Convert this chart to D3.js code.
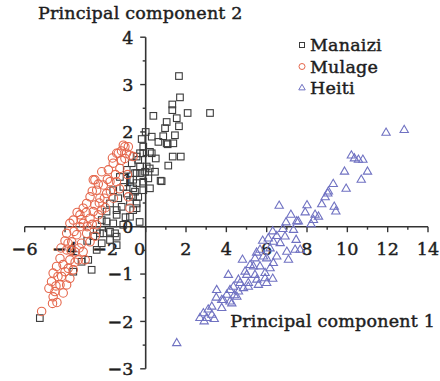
<!DOCTYPE html>
<html>
<head>
<meta charset="utf-8">
<script src="https://cdn.jsdelivr.net/npm/d3@7"></script>
<style>
  body { margin: 0; background: #fff; }
  text { font-family: "DejaVu Serif", serif; fill: #1e1e1e; stroke: #1e1e1e; stroke-width: 0.45px; letter-spacing: 0.2px; }
</style>
</head>
<body>
<svg id="chart" width="440" height="381"></svg>
<script>
const xTicks = [-6, -4, -2, 0, 2, 4, 6, 8, 10, 12, 14];
const yTicks = [-3, -2, -1, 0, 1, 2, 3, 4];
const seriesNames = ["Manaizi", "Mulage", "Heiti"];

// Manaizi (squares)
const manaizi = [
  [1.65,3.18],[1.70,2.73],[2.08,2.40],[3.19,2.40],[0.38,2.34],[1.32,2.58],[1.32,2.46],[1.54,2.29],
  [1.65,2.12],[1.04,2.21],[0.96,2.08],[0.87,1.91],[1.45,1.93],[1.37,1.76],[1.09,1.74],[0.63,1.79],
  [0.30,1.90],[-0.12,1.69],[-0.12,1.55],[0.30,1.55],[0.50,1.44],[1.34,1.48],[1.74,1.48],[1.12,1.29],
  [0.79,0.96],[0.46,1.16],[0.05,1.27],[-0.28,1.13],[-0.62,0.99],[1.04,1.76],[0.21,1.58],[-0.03,1.16],
  [0.13,1.02],[0.74,0.97],[-0.12,0.95],[0.21,0.81],[-0.12,0.77],[-0.45,0.92],[-0.53,0.74],[-0.37,0.63],
  [-0.45,0.49],[-0.62,0.35],[-0.28,1.55],[-0.37,1.41],[-0.45,1.13],[-0.45,1.48],[-0.69,1.34],[-0.28,1.27],
  [0.20,1.23],[-0.94,1.20],[-0.53,1.13],[-1.28,1.05],[-0.78,0.99],[-1.11,0.84],[-0.62,0.81],[-1.61,0.77],
  [-0.94,0.70],[-1.36,0.60],[-0.78,0.53],[-1.77,0.49],[-1.19,0.42],[-0.45,0.39],[-1.94,0.32],[-1.44,0.25],
  [-0.78,0.21],[-2.18,0.14],[-1.61,0.07],[-1.11,0.04],[-0.30,0.10],[-2.43,-0.07],[-2.10,-0.14],[-1.52,-0.14],
  [-1.77,-0.28],[-2.18,-0.35],[-1.44,-0.39],[-2.43,-0.49],[-2.85,-0.70],[-2.68,-0.91],[-3.18,-0.74],[-3.59,-0.95],
  [-1.44,-0.21],[-1.77,-0.11],[-5.25,-1.93],[-0.20,1.85],[0.00,2.00],[-1.00,0.20],[-2.90,-0.30],[-2.60,-0.20],
  [-2.27,-0.14],[-1.94,0.11],[-1.44,0.35],[-0.62,0.63]
];

// Mulage (circles)
const mulage = [
  [-0.86,1.69],[-1.11,1.72],[-1.36,1.55],[-0.78,1.51],[-1.03,1.44],[-1.61,1.34],[-1.28,1.23],[-2.18,1.16],
  [-2.60,0.99],[-2.10,0.88],[-1.77,0.95],[-2.43,0.77],[-1.94,0.70],[-2.76,0.63],[-2.27,0.60],[-2.93,0.49],
  [-2.52,0.46],[-3.10,0.39],[-2.60,0.32],[-2.18,0.35],[-3.26,0.25],[-2.76,0.18],[-3.59,0.14],[-3.10,0.07],
  [-3.76,0.07],[-0.86,0.63],[-0.78,0.39],[-1.03,1.69],[-1.44,1.55],[-0.62,1.48],[-2.52,0.99],[-1.50,1.10],
  [-1.90,1.00],[-3.26,0.00],[-2.43,0.04],[-3.92,-0.14],[-3.42,-0.17],[-2.93,-0.14],[-3.67,-0.32],[-3.18,-0.35],
  [-2.76,-0.32],[-3.92,-0.49],[-3.51,-0.53],[-3.10,-0.53],[-4.25,-0.67],[-3.76,-0.70],[-3.34,-0.70],[-4.42,-0.84],
  [-3.84,-0.88],[-3.59,-0.91],[-4.59,-0.98],[-4.17,-1.05],[-3.76,-1.09],[-4.67,-1.16],[-4.25,-1.23],[-3.92,-1.23],
  [-4.50,-1.37],[-4.09,-1.40],[-4.59,-1.48],[-4.62,-1.62],[-5.16,-1.79],[-2.90,0.00],[-2.30,0.50],[-1.60,0.60],
  [-1.30,0.80],[-2.00,0.40],[-3.40,0.30],[-2.50,-0.20],[-4.00,-0.30],[-4.00,-0.95],[-1.20,1.40],[-0.90,1.10],
  [-2.35,0.25],[-3.00,-0.70],[-4.35,-1.05],[-3.70,-0.50],[-3.30,-0.45],[-3.55,-0.10],[-2.65,0.05],[-2.05,0.60],
  [-1.75,0.75],[-1.45,0.95],[-1.85,1.20],[-2.35,0.90],[-1.20,1.60],[-0.95,1.55],[-2.95,0.30],[-3.50,-0.75],
  [-4.10,-0.80],[-4.45,-1.25],[-3.85,-0.35],[-4.20,-0.45],[-1.65,1.45],[-2.65,0.75],[-3.20,0.15],[-4.40,-1.60],
  [-4.80,-1.30]
];

// Heiti (triangles)
const heiti = [
  [11.92,1.98],[12.82,2.04],[10.35,1.44],[10.55,1.41],[10.77,1.41],[9.86,1.16],[11.00,1.16],[10.69,0.99],
  [9.06,0.74],[9.94,0.80],[8.73,0.47],[9.35,0.42],[9.43,0.32],[7.91,0.30],[8.40,0.25],[8.57,0.21],
  [6.62,0.44],[9.03,0.70],[8.32,0.14],[7.57,0.11],[6.96,0.09],[7.33,-0.07],[6.91,-0.21],[7.46,-0.28],
  [6.33,-0.32],[7.66,-0.49],[7.00,-0.53],[7.08,-0.70],[6.17,-0.46],[5.84,-0.63],[6.33,-0.77],[5.34,-0.84],
  [5.92,-0.98],[5.01,-1.02],[5.51,-1.12],[6.00,-1.19],[4.68,-1.19],[5.09,-1.27],[4.18,-1.34],[4.60,-1.37],
  [3.85,-1.55],[4.18,-1.58],[3.77,-1.72],[7.49,0.11],[6.08,-0.25],[6.67,-0.35],[7.41,-0.49],[5.67,-0.49],
  [5.42,-0.67],[6.00,-0.67],[6.50,-0.63],[5.18,-0.81],[5.67,-0.84],[6.17,-0.88],[4.93,-0.95],[5.42,-1.02],
  [5.92,-1.09],[4.10,-1.02],[4.60,-1.12],[5.09,-1.19],[5.59,-1.23],[4.35,-1.27],[4.85,-1.30],[3.52,-1.34],
  [4.02,-1.44],[4.52,-1.48],[3.77,-1.55],[4.27,-1.62],[3.28,-1.69],[3.03,-1.93],[2.86,-1.83],[3.28,-1.86],
  [2.69,-1.93],[1.54,-2.46],[6.30,-0.10],[6.80,-0.05],[5.80,-0.30],[6.50,-0.20],[5.50,-0.55],[4.80,-0.70],
  [3.50,-1.50],[3.10,-1.75],[2.90,-2.00],[3.40,-1.95],[4.40,-1.45],[6.30,-1.10],[8.00,0.45],[8.90,0.62],
  [10.20,1.50],[9.30,0.90],[8.20,0.05],[7.20,0.25]
];

const svg = d3.select("#chart");

const x = d3.scaleLinear().domain([-6, 14]).range([24.7, 428]);
const y = d3.scaleLinear().domain([-3, 4]).range([368.8, 37.2]);

const axisColor = "#333";
const fmt = d => d < 0 ? "\u2212" + Math.abs(d) : d;
const fs = "17.5px";

// x axis (through y = 0)
const xAxis = svg.append("g").attr("transform", "translate(0," + y(0) + ")");
xAxis.append("line")
  .attr("x1", x(-6)).attr("x2", x(14))
  .attr("stroke", axisColor).attr("stroke-width", 1.6);
xAxis.selectAll(".minor")
  .data(d3.range(-5, 14, 2))
  .enter().append("line")
  .attr("x1", d => x(d)).attr("x2", d => x(d))
  .attr("y1", 0).attr("y2", 3)
  .attr("stroke", axisColor).attr("stroke-width", 1.4);
xAxis.selectAll(".major")
  .data(xTicks)
  .enter().append("line")
  .attr("x1", d => x(d)).attr("x2", d => x(d))
  .attr("y1", 0).attr("y2", 5.5)
  .attr("stroke", axisColor).attr("stroke-width", 1.4);
xAxis.selectAll(".lab")
  .data(xTicks)
  .enter().append("text")
  .attr("x", d => x(d) + (d === 0 ? -6 : 0))
  .attr("y", 28)
  .attr("text-anchor", "middle")
  .style("font-size", fs)
  .text(fmt);

// y axis (through x = 0)
const yAxis = svg.append("g").attr("transform", "translate(" + x(0) + ",0)");
yAxis.append("line")
  .attr("y1", y(-3)).attr("y2", y(4))
  .attr("stroke", axisColor).attr("stroke-width", 1.6);
yAxis.selectAll(".minor")
  .data(d3.range(-2.5, 4, 1))
  .enter().append("line")
  .attr("y1", d => y(d)).attr("y2", d => y(d))
  .attr("x1", 0).attr("x2", -3)
  .attr("stroke", axisColor).attr("stroke-width", 1.4);
yAxis.selectAll(".major")
  .data(yTicks)
  .enter().append("line")
  .attr("y1", d => y(d)).attr("y2", d => y(d))
  .attr("x1", 0).attr("x2", -5.5)
  .attr("stroke", axisColor).attr("stroke-width", 1.4);
yAxis.selectAll(".lab")
  .data(yTicks)
  .enter().append("text")
  .attr("x", -12)
  .attr("y", d => y(d))
  .attr("dy", "0.36em")
  .attr("text-anchor", "end")
  .style("font-size", fs)
  .text(fmt);

// axis titles
svg.append("text").attr("x", 38).attr("y", 19)
  .style("font-size", fs).text("Principal component 2");
svg.append("text").attr("x", 435).attr("y", 327).attr("text-anchor", "end")
  .style("font-size", fs).text("Principal component 1");

const colors = ["#3c3c3c", "#e5674c", "#7072c2"];
const triangle = d3.symbol().type(d3.symbolTriangle);

// points
svg.append("g").selectAll("rect")
  .data(manaizi).enter().append("rect")
  .attr("x", d => x(d[0]) - 3.3).attr("y", d => y(d[1]) - 3.3)
  .attr("width", 6.6).attr("height", 6.6)
  .attr("fill", "none").attr("stroke", colors[0]).attr("stroke-width", 1.1);

svg.append("g").selectAll("circle")
  .data(mulage).enter().append("circle")
  .attr("cx", d => x(d[0])).attr("cy", d => y(d[1]))
  .attr("r", 4.2)
  .attr("fill", "none").attr("stroke", colors[1]).attr("stroke-width", 1.1);

svg.append("g").selectAll("path")
  .data(heiti).enter().append("path")
  .attr("transform", d => "translate(" + x(d[0]) + "," + y(d[1]) + ")")
  .attr("d", triangle.size(30)())
  .attr("fill", "none").attr("stroke", colors[2]).attr("stroke-width", 1.1);

// legend
const legend = svg.append("g").attr("transform", "translate(302,45)");
const rows = legend.selectAll("g").data(seriesNames).enter().append("g")
  .attr("transform", (d, i) => "translate(0," + (i * 21.5) + ")");
rows.filter((d, i) => i === 0).append("rect")
  .attr("x", -2.5).attr("y", -2.5).attr("width", 5).attr("height", 5)
  .attr("fill", "none").attr("stroke", colors[0]).attr("stroke-width", 1);
rows.filter((d, i) => i === 1).append("circle")
  .attr("r", 3).attr("fill", "none").attr("stroke", colors[1]).attr("stroke-width", 1);
rows.filter((d, i) => i === 2).append("path")
  .attr("d", triangle.size(18)())
  .attr("fill", "none").attr("stroke", colors[2]).attr("stroke-width", 1);
rows.append("text")
  .attr("x", 8).attr("dy", "0.36em")
  .style("font-size", fs)
  .text(d => d);
</script>
</body>
</html>
